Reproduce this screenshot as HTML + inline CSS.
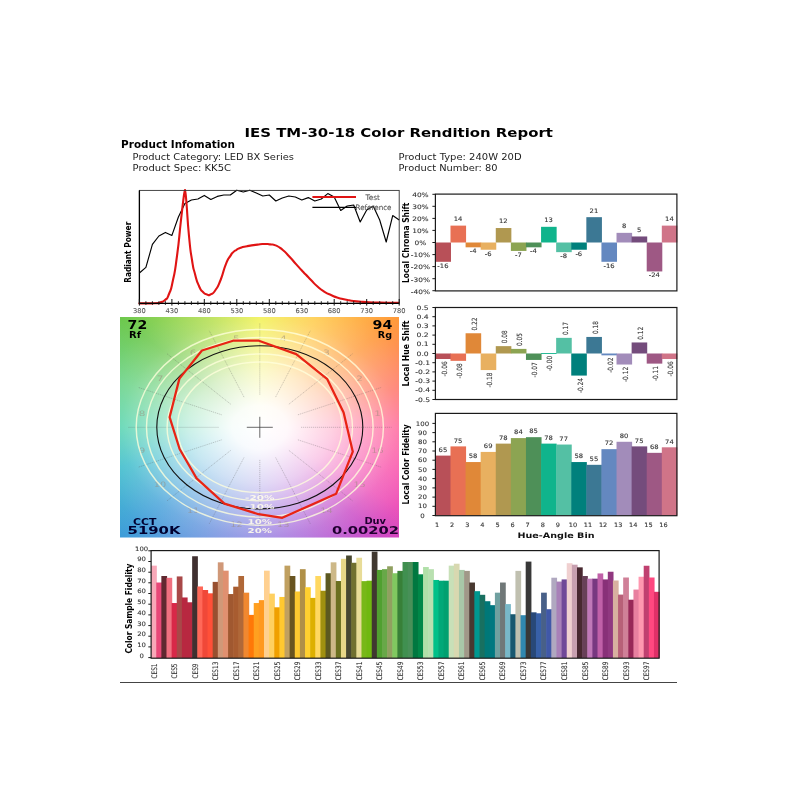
<!DOCTYPE html>
<html><head><meta charset="utf-8"><title>IES TM-30-18 Color Rendition Report</title>
<style>
html,body{margin:0;padding:0;background:#fff;}
body{width:800px;height:800px;position:relative;overflow:hidden;font-family:"DejaVu Sans","Liberation Sans",sans-serif;}
#cvgbg{filter:blur(0.4px);position:absolute;left:120px;top:317px;width:278.6px;height:220.6px;overflow:hidden;}
#cvgbg .wheel{position:absolute;left:0;top:0;width:280px;height:280px;transform-origin:0 0;transform:scaleY(0.7875);
 background:
  radial-gradient(circle at 50% 50%, rgba(255,255,255,1) 0%, rgba(255,255,255,0.96) 14%, rgba(255,255,255,0.72) 36%, rgba(255,255,255,0.46) 54%, rgba(255,255,255,0.22) 70%, rgba(255,255,255,0.07) 86%, rgba(255,255,255,0) 100%),
  conic-gradient(from 0deg at 50% 50%, #F0F040 0deg, #FFC840 22deg, #FF9838 45deg, #FF7060 70deg, #FF5C94 90deg, #F84CA8 112deg, #EC48B4 126deg, #C844C4 140deg, #A862D8 162deg, #8C7CE0 180deg, #5C90DC 205deg, #3C9CD8 225deg, #30B8C8 250deg, #48D0A8 270deg, #60D080 292deg, #6CC84C 315deg, #B0DC44 340deg, #F0F040 360deg);}
svg{position:absolute;left:0;top:0;filter:blur(0.45px);}
svg text{font-family:"DejaVu Sans","Liberation Sans",sans-serif;}
</style></head><body>
<div id="cvgbg"><div class="wheel"></div></div>
<svg width="800" height="800" viewBox="0 0 800 800">
<text x="398.7" y="136.7" font-size="12.8" fill="#000" text-anchor="middle" font-weight="bold" textLength="308.4" lengthAdjust="spacingAndGlyphs">IES TM-30-18 Color Rendition Report</text>
<text x="121.1" y="147.9" font-size="9.6" fill="#000" text-anchor="start" font-weight="bold" textLength="113.8" lengthAdjust="spacingAndGlyphs">Product Infomation</text>
<text x="132.6" y="160.1" font-size="8.4" fill="#222" text-anchor="start" textLength="161.4" lengthAdjust="spacingAndGlyphs">Product Category: LED BX Series</text>
<text x="132.6" y="171.0" font-size="8.4" fill="#222" text-anchor="start" textLength="98.4" lengthAdjust="spacingAndGlyphs">Product Spec: KK5C</text>
<text x="398.6" y="160.1" font-size="8.4" fill="#222" text-anchor="start" textLength="123" lengthAdjust="spacingAndGlyphs">Product Type: 240W 20D</text>
<text x="398.6" y="171.0" font-size="8.4" fill="#222" text-anchor="start" textLength="99" lengthAdjust="spacingAndGlyphs">Product Number: 80</text>
<polyline fill="none" stroke="#000" stroke-width="1.15" stroke-linejoin="round" points="139.4,273 145.9,267.4 152.4,244.4 158.9,236 165.4,232.4 171.9,235.4 178.4,217 184.9,203.6 191.4,200 197.9,199 204.3,195.4 210.8,199.4 217.3,196.4 223.8,195 230.3,195 236.8,190.2 243.3,192 249.8,190.2 256.3,193 262.8,196 269.3,195 275.8,201 282.3,198 288.8,196 295.3,197 301.8,200 308.3,197.6 314.8,201 321.3,199 327.8,193.6 334.2,197 340.7,210.4 347.2,206 353.7,205 360.2,222 366.7,210 373.2,206 379.7,220 386.2,242 392.7,215.6 399.2,220"/>
<path fill="none" stroke="#e01414" stroke-width="2.1" stroke-linejoin="round" stroke-linecap="round" d="M139.4,303.4 C144.6,303.3 148.1,303.5 155.0,303.2 C161.9,302.9 156.7,303.5 160.0,302.4 C163.3,301.3 162.0,302.8 165.0,300.0 C168.0,297.2 166.3,300.7 169.0,294.0 C171.7,287.3 170.3,292.7 173.0,280.0 C175.7,267.3 174.3,276.0 177.0,256.0 C179.7,236.0 178.8,239.3 181.0,220.0 C183.2,200.7 182.3,208.0 183.6,198.0 C184.9,188.0 184.5,192.7 185.0,190.0 L185.0,190.0 C185.5,194.0 185.1,186.7 186.4,202.0 C187.7,217.3 187.1,216.7 189.0,236.0 C190.9,255.3 190.0,247.3 192.0,260.0 C194.0,272.7 192.7,265.3 195.0,274.0 C197.3,282.7 196.3,280.0 199.0,286.0 C201.7,292.0 200.3,289.2 203.0,292.0 C205.7,294.8 204.5,293.6 207.0,294.4 C209.5,295.2 207.8,295.9 210.6,294.4 C213.4,292.9 212.1,295.0 215.5,290.0 C218.9,285.0 217.2,288.2 220.8,279.5 C224.2,270.8 222.8,271.6 226.0,263.8 C229.2,255.9 228.1,259.7 230.4,255.9 C232.7,252.1 231.0,254.5 233.0,252.4 C235.0,250.3 234.2,251.2 236.5,249.8 C238.8,248.3 236.5,249.2 240.0,248.0 C243.5,246.8 241.2,247.4 247.0,246.2 C252.8,245.1 251.7,245.3 257.5,244.6 C263.3,243.8 260.3,244.1 264.5,244.0 C268.7,243.9 266.3,243.9 270.0,244.4 C273.7,244.9 271.3,243.6 275.5,245.4 C279.7,247.2 277.8,246.0 282.5,249.8 C287.2,253.5 284.8,251.8 289.5,256.8 C294.2,261.7 291.8,259.5 296.5,264.6 C301.2,269.8 298.8,267.2 303.5,272.2 C308.2,277.2 305.8,274.7 310.5,279.5 C315.2,284.3 312.8,282.4 317.5,286.5 C322.2,290.6 319.8,288.8 324.5,291.8 C329.2,294.7 326.8,293.2 331.5,295.2 C336.2,297.3 332.7,296.2 338.5,297.9 C344.3,299.5 340.8,298.9 349.0,300.2 C357.2,301.5 352.5,301.1 363.0,301.9 C373.5,302.7 368.7,302.3 380.5,302.6 C392.3,302.9 392.5,302.7 398.5,302.8"/>
<rect x="139.4" y="190.4" width="259.8" height="113.0" fill="none" stroke="#333" stroke-width="0.9"/>
<polyline points="139.4,190.4 139.4,303.4 399.2,303.4" fill="none" stroke="#000" stroke-width="1.3"/>
<line x1="139.4" y1="299.0" x2="139.4" y2="305.59999999999997" stroke="#111" stroke-width="1"/>
<text x="139.4" y="312.7" font-size="6.6" fill="#555" text-anchor="middle" stroke="#555" stroke-width="0.1" textLength="12.8" lengthAdjust="spacingAndGlyphs">380</text>
<line x1="145.9" y1="301.2" x2="145.9" y2="304.9" stroke="#111" stroke-width="0.9"/>
<line x1="152.4" y1="301.2" x2="152.4" y2="304.9" stroke="#111" stroke-width="0.9"/>
<line x1="158.9" y1="301.2" x2="158.9" y2="304.9" stroke="#111" stroke-width="0.9"/>
<line x1="165.4" y1="301.2" x2="165.4" y2="304.9" stroke="#111" stroke-width="0.9"/>
<line x1="171.9" y1="299.0" x2="171.9" y2="305.59999999999997" stroke="#111" stroke-width="1"/>
<text x="171.9" y="312.7" font-size="6.6" fill="#555" text-anchor="middle" stroke="#555" stroke-width="0.1" textLength="12.8" lengthAdjust="spacingAndGlyphs">430</text>
<line x1="178.4" y1="301.2" x2="178.4" y2="304.9" stroke="#111" stroke-width="0.9"/>
<line x1="184.9" y1="301.2" x2="184.9" y2="304.9" stroke="#111" stroke-width="0.9"/>
<line x1="191.4" y1="301.2" x2="191.4" y2="304.9" stroke="#111" stroke-width="0.9"/>
<line x1="197.9" y1="301.2" x2="197.9" y2="304.9" stroke="#111" stroke-width="0.9"/>
<line x1="204.3" y1="299.0" x2="204.3" y2="305.59999999999997" stroke="#111" stroke-width="1"/>
<text x="204.3" y="312.7" font-size="6.6" fill="#555" text-anchor="middle" stroke="#555" stroke-width="0.1" textLength="12.8" lengthAdjust="spacingAndGlyphs">480</text>
<line x1="210.8" y1="301.2" x2="210.8" y2="304.9" stroke="#111" stroke-width="0.9"/>
<line x1="217.3" y1="301.2" x2="217.3" y2="304.9" stroke="#111" stroke-width="0.9"/>
<line x1="223.8" y1="301.2" x2="223.8" y2="304.9" stroke="#111" stroke-width="0.9"/>
<line x1="230.3" y1="301.2" x2="230.3" y2="304.9" stroke="#111" stroke-width="0.9"/>
<line x1="236.8" y1="299.0" x2="236.8" y2="305.59999999999997" stroke="#111" stroke-width="1"/>
<text x="236.8" y="312.7" font-size="6.6" fill="#555" text-anchor="middle" stroke="#555" stroke-width="0.1" textLength="12.8" lengthAdjust="spacingAndGlyphs">530</text>
<line x1="243.3" y1="301.2" x2="243.3" y2="304.9" stroke="#111" stroke-width="0.9"/>
<line x1="249.8" y1="301.2" x2="249.8" y2="304.9" stroke="#111" stroke-width="0.9"/>
<line x1="256.3" y1="301.2" x2="256.3" y2="304.9" stroke="#111" stroke-width="0.9"/>
<line x1="262.8" y1="301.2" x2="262.8" y2="304.9" stroke="#111" stroke-width="0.9"/>
<line x1="269.3" y1="299.0" x2="269.3" y2="305.59999999999997" stroke="#111" stroke-width="1"/>
<text x="269.3" y="312.7" font-size="6.6" fill="#555" text-anchor="middle" stroke="#555" stroke-width="0.1" textLength="12.8" lengthAdjust="spacingAndGlyphs">580</text>
<line x1="275.8" y1="301.2" x2="275.8" y2="304.9" stroke="#111" stroke-width="0.9"/>
<line x1="282.3" y1="301.2" x2="282.3" y2="304.9" stroke="#111" stroke-width="0.9"/>
<line x1="288.8" y1="301.2" x2="288.8" y2="304.9" stroke="#111" stroke-width="0.9"/>
<line x1="295.3" y1="301.2" x2="295.3" y2="304.9" stroke="#111" stroke-width="0.9"/>
<line x1="301.8" y1="299.0" x2="301.8" y2="305.59999999999997" stroke="#111" stroke-width="1"/>
<text x="301.8" y="312.7" font-size="6.6" fill="#555" text-anchor="middle" stroke="#555" stroke-width="0.1" textLength="12.8" lengthAdjust="spacingAndGlyphs">630</text>
<line x1="308.3" y1="301.2" x2="308.3" y2="304.9" stroke="#111" stroke-width="0.9"/>
<line x1="314.8" y1="301.2" x2="314.8" y2="304.9" stroke="#111" stroke-width="0.9"/>
<line x1="321.3" y1="301.2" x2="321.3" y2="304.9" stroke="#111" stroke-width="0.9"/>
<line x1="327.8" y1="301.2" x2="327.8" y2="304.9" stroke="#111" stroke-width="0.9"/>
<line x1="334.2" y1="299.0" x2="334.2" y2="305.59999999999997" stroke="#111" stroke-width="1"/>
<text x="334.2" y="312.7" font-size="6.6" fill="#555" text-anchor="middle" stroke="#555" stroke-width="0.1" textLength="12.8" lengthAdjust="spacingAndGlyphs">680</text>
<line x1="340.7" y1="301.2" x2="340.7" y2="304.9" stroke="#111" stroke-width="0.9"/>
<line x1="347.2" y1="301.2" x2="347.2" y2="304.9" stroke="#111" stroke-width="0.9"/>
<line x1="353.7" y1="301.2" x2="353.7" y2="304.9" stroke="#111" stroke-width="0.9"/>
<line x1="360.2" y1="301.2" x2="360.2" y2="304.9" stroke="#111" stroke-width="0.9"/>
<line x1="366.7" y1="299.0" x2="366.7" y2="305.59999999999997" stroke="#111" stroke-width="1"/>
<text x="366.7" y="312.7" font-size="6.6" fill="#555" text-anchor="middle" stroke="#555" stroke-width="0.1" textLength="12.8" lengthAdjust="spacingAndGlyphs">730</text>
<line x1="373.2" y1="301.2" x2="373.2" y2="304.9" stroke="#111" stroke-width="0.9"/>
<line x1="379.7" y1="301.2" x2="379.7" y2="304.9" stroke="#111" stroke-width="0.9"/>
<line x1="386.2" y1="301.2" x2="386.2" y2="304.9" stroke="#111" stroke-width="0.9"/>
<line x1="392.7" y1="301.2" x2="392.7" y2="304.9" stroke="#111" stroke-width="0.9"/>
<line x1="399.2" y1="299.0" x2="399.2" y2="305.59999999999997" stroke="#111" stroke-width="1"/>
<text x="399.2" y="312.7" font-size="6.6" fill="#555" text-anchor="middle" stroke="#555" stroke-width="0.1" textLength="12.8" lengthAdjust="spacingAndGlyphs">780</text>
<line x1="312.4" y1="197" x2="356" y2="197" stroke="#e01414" stroke-width="2.1"/>
<line x1="312.4" y1="207.3" x2="356" y2="207.3" stroke="#000" stroke-width="1.15"/>
<text x="365.4" y="200" font-size="7.4" fill="#555" text-anchor="start" stroke="#555" stroke-width="0.1">Test</text>
<text x="355.5" y="210" font-size="7.4" fill="#555" text-anchor="start" stroke="#555" stroke-width="0.1" textLength="36" lengthAdjust="spacingAndGlyphs">Reference</text>
<text x="131.2" y="252.2" font-size="9.3" fill="#000" text-anchor="middle" transform="rotate(-90 131.2 252.2)" font-weight="bold" font-family='"DejaVu Sans Condensed","DejaVu Sans","Liberation Sans",sans-serif' textLength="61" lengthAdjust="spacingAndGlyphs">Radiant Power</text>
<rect x="435.40" y="242.50" width="15.59" height="19.30" fill="#B85058"/>
<text transform="translate(442.9 267.8) scale(1.12 1)" font-size="6.1" fill="#333" text-anchor="middle" stroke="#333" stroke-width="0.1">-16</text>
<rect x="450.49" y="225.62" width="15.59" height="16.88" fill="#E87054"/>
<text transform="translate(458.0 221.0) scale(1.12 1)" font-size="6.1" fill="#333" text-anchor="middle" stroke="#333" stroke-width="0.1">14</text>
<rect x="465.59" y="242.50" width="15.59" height="4.82" fill="#E08838"/>
<text transform="translate(473.1 253.3) scale(1.12 1)" font-size="6.1" fill="#333" text-anchor="middle" stroke="#333" stroke-width="0.1">-4</text>
<rect x="480.68" y="242.50" width="15.59" height="7.24" fill="#E8B060"/>
<text transform="translate(488.2 255.7) scale(1.12 1)" font-size="6.1" fill="#333" text-anchor="middle" stroke="#333" stroke-width="0.1">-6</text>
<rect x="495.77" y="228.03" width="15.59" height="14.47" fill="#B09850"/>
<text transform="translate(503.3 223.4) scale(1.12 1)" font-size="6.1" fill="#333" text-anchor="middle" stroke="#333" stroke-width="0.1">12</text>
<rect x="510.87" y="242.50" width="15.59" height="8.44" fill="#8CA452"/>
<text transform="translate(518.4 256.9) scale(1.12 1)" font-size="6.1" fill="#333" text-anchor="middle" stroke="#333" stroke-width="0.1">-7</text>
<rect x="525.96" y="242.50" width="15.59" height="4.82" fill="#4E9058"/>
<text transform="translate(533.5 253.3) scale(1.12 1)" font-size="6.1" fill="#333" text-anchor="middle" stroke="#333" stroke-width="0.1">-4</text>
<rect x="541.06" y="226.82" width="15.59" height="15.68" fill="#10B48C"/>
<text transform="translate(548.6 222.2) scale(1.12 1)" font-size="6.1" fill="#333" text-anchor="middle" stroke="#333" stroke-width="0.1">13</text>
<rect x="556.15" y="242.50" width="15.59" height="9.65" fill="#54C0A4"/>
<text transform="translate(563.7 258.1) scale(1.12 1)" font-size="6.1" fill="#333" text-anchor="middle" stroke="#333" stroke-width="0.1">-8</text>
<rect x="571.24" y="242.50" width="15.59" height="7.24" fill="#00807C"/>
<text transform="translate(578.8 255.7) scale(1.12 1)" font-size="6.1" fill="#333" text-anchor="middle" stroke="#333" stroke-width="0.1">-6</text>
<rect x="586.34" y="217.17" width="15.59" height="25.33" fill="#3C7894"/>
<text transform="translate(593.9 212.6) scale(1.12 1)" font-size="6.1" fill="#333" text-anchor="middle" stroke="#333" stroke-width="0.1">21</text>
<rect x="601.43" y="242.50" width="15.59" height="19.30" fill="#6488C0"/>
<text transform="translate(609.0 267.8) scale(1.12 1)" font-size="6.1" fill="#333" text-anchor="middle" stroke="#333" stroke-width="0.1">-16</text>
<rect x="616.52" y="232.85" width="15.59" height="9.65" fill="#A28CBA"/>
<text transform="translate(624.1 228.3) scale(1.12 1)" font-size="6.1" fill="#333" text-anchor="middle" stroke="#333" stroke-width="0.1">8</text>
<rect x="631.62" y="236.47" width="15.59" height="6.03" fill="#744C7C"/>
<text transform="translate(639.2 231.9) scale(1.12 1)" font-size="6.1" fill="#333" text-anchor="middle" stroke="#333" stroke-width="0.1">5</text>
<rect x="646.71" y="242.50" width="15.59" height="28.94" fill="#9E5884"/>
<text transform="translate(654.3 277.4) scale(1.12 1)" font-size="6.1" fill="#333" text-anchor="middle" stroke="#333" stroke-width="0.1">-24</text>
<rect x="661.81" y="225.62" width="15.59" height="16.88" fill="#D07488"/>
<text transform="translate(669.4 221.0) scale(1.12 1)" font-size="6.1" fill="#333" text-anchor="middle" stroke="#333" stroke-width="0.1">14</text>
<rect x="435.4" y="194.1" width="241.5" height="96.8" fill="none" stroke="#1a1a1a" stroke-width="1.2"/>
<line x1="432.4" y1="194.3" x2="435.4" y2="194.3" stroke="#1a1a1a" stroke-width="1"/>
<text transform="translate(420.4 197.1) scale(1.22 1)" font-size="6.1" fill="#333" text-anchor="middle" stroke="#333" stroke-width="0.1">40%</text>
<line x1="432.4" y1="206.3" x2="435.4" y2="206.3" stroke="#1a1a1a" stroke-width="1"/>
<text transform="translate(420.4 209.1) scale(1.22 1)" font-size="6.1" fill="#333" text-anchor="middle" stroke="#333" stroke-width="0.1">30%</text>
<line x1="432.4" y1="218.4" x2="435.4" y2="218.4" stroke="#1a1a1a" stroke-width="1"/>
<text transform="translate(420.4 221.2) scale(1.22 1)" font-size="6.1" fill="#333" text-anchor="middle" stroke="#333" stroke-width="0.1">20%</text>
<line x1="432.4" y1="230.4" x2="435.4" y2="230.4" stroke="#1a1a1a" stroke-width="1"/>
<text transform="translate(420.4 233.2) scale(1.22 1)" font-size="6.1" fill="#333" text-anchor="middle" stroke="#333" stroke-width="0.1">10%</text>
<line x1="432.4" y1="242.5" x2="435.4" y2="242.5" stroke="#1a1a1a" stroke-width="1"/>
<text transform="translate(420.4 245.3) scale(1.22 1)" font-size="6.1" fill="#333" text-anchor="middle" stroke="#333" stroke-width="0.1">0%</text>
<line x1="432.4" y1="254.6" x2="435.4" y2="254.6" stroke="#1a1a1a" stroke-width="1"/>
<text transform="translate(420.4 257.4) scale(1.22 1)" font-size="6.1" fill="#333" text-anchor="middle" stroke="#333" stroke-width="0.1">-10%</text>
<line x1="432.4" y1="266.6" x2="435.4" y2="266.6" stroke="#1a1a1a" stroke-width="1"/>
<text transform="translate(420.4 269.4) scale(1.22 1)" font-size="6.1" fill="#333" text-anchor="middle" stroke="#333" stroke-width="0.1">-20%</text>
<line x1="432.4" y1="278.7" x2="435.4" y2="278.7" stroke="#1a1a1a" stroke-width="1"/>
<text transform="translate(420.4 281.5) scale(1.22 1)" font-size="6.1" fill="#333" text-anchor="middle" stroke="#333" stroke-width="0.1">-30%</text>
<line x1="432.4" y1="290.7" x2="435.4" y2="290.7" stroke="#1a1a1a" stroke-width="1"/>
<text transform="translate(420.4 293.5) scale(1.22 1)" font-size="6.1" fill="#333" text-anchor="middle" stroke="#333" stroke-width="0.1">-40%</text>
<text x="408.6" y="242.8" font-size="9.0" fill="#000" text-anchor="middle" transform="rotate(-90 408.6 242.8)" font-weight="bold" font-family='"DejaVu Sans Condensed","DejaVu Sans","Liberation Sans",sans-serif' textLength="80.5" lengthAdjust="spacingAndGlyphs">Local Chroma Shift</text>
<rect x="435.40" y="353.50" width="15.59" height="5.52" fill="#B85058"/>
<text x="446.8" y="361.3" font-size="7.2" fill="#333" text-anchor="end" transform="rotate(-90 446.8 361.3)" stroke="#333" stroke-width="0.1" textLength="15.2" lengthAdjust="spacingAndGlyphs">-0.06</text>
<rect x="450.49" y="353.50" width="15.59" height="7.36" fill="#E87054"/>
<text x="461.9" y="363.2" font-size="7.2" fill="#333" text-anchor="end" transform="rotate(-90 461.9 363.2)" stroke="#333" stroke-width="0.1" textLength="15.2" lengthAdjust="spacingAndGlyphs">-0.08</text>
<rect x="465.59" y="333.26" width="15.59" height="20.24" fill="#E08838"/>
<text x="477.0" y="330.5" font-size="7.2" fill="#333" text-anchor="start" transform="rotate(-90 477.0 330.5)" stroke="#333" stroke-width="0.1" textLength="13" lengthAdjust="spacingAndGlyphs">0.22</text>
<rect x="480.68" y="353.50" width="15.59" height="16.56" fill="#E8B060"/>
<text x="492.1" y="372.4" font-size="7.2" fill="#333" text-anchor="end" transform="rotate(-90 492.1 372.4)" stroke="#333" stroke-width="0.1" textLength="15.2" lengthAdjust="spacingAndGlyphs">-0.18</text>
<rect x="495.77" y="346.14" width="15.59" height="7.36" fill="#B09850"/>
<text x="507.2" y="343.3" font-size="7.2" fill="#333" text-anchor="start" transform="rotate(-90 507.2 343.3)" stroke="#333" stroke-width="0.1" textLength="13" lengthAdjust="spacingAndGlyphs">0.08</text>
<rect x="510.87" y="348.90" width="15.59" height="4.60" fill="#8CA452"/>
<text x="522.3" y="346.1" font-size="7.2" fill="#333" text-anchor="start" transform="rotate(-90 522.3 346.1)" stroke="#333" stroke-width="0.1" textLength="13" lengthAdjust="spacingAndGlyphs">0.05</text>
<rect x="525.96" y="353.50" width="15.59" height="6.44" fill="#4E9058"/>
<text x="537.4" y="362.2" font-size="7.2" fill="#333" text-anchor="end" transform="rotate(-90 537.4 362.2)" stroke="#333" stroke-width="0.1" textLength="15.2" lengthAdjust="spacingAndGlyphs">-0.07</text>
<rect x="541.06" y="353.10" width="15.59" height="0.9" fill="#10B48C"/>
<text x="552.5" y="355.8" font-size="7.2" fill="#333" text-anchor="end" transform="rotate(-90 552.5 355.8)" stroke="#333" stroke-width="0.1" textLength="15.2" lengthAdjust="spacingAndGlyphs">-0.00</text>
<rect x="556.15" y="337.86" width="15.59" height="15.64" fill="#54C0A4"/>
<text x="567.6" y="335.1" font-size="7.2" fill="#333" text-anchor="start" transform="rotate(-90 567.6 335.1)" stroke="#333" stroke-width="0.1" textLength="13" lengthAdjust="spacingAndGlyphs">0.17</text>
<rect x="571.24" y="353.50" width="15.59" height="22.08" fill="#00807C"/>
<text x="582.7" y="377.9" font-size="7.2" fill="#333" text-anchor="end" transform="rotate(-90 582.7 377.9)" stroke="#333" stroke-width="0.1" textLength="15.2" lengthAdjust="spacingAndGlyphs">-0.24</text>
<rect x="586.34" y="336.94" width="15.59" height="16.56" fill="#3C7894"/>
<text x="597.8" y="334.1" font-size="7.2" fill="#333" text-anchor="start" transform="rotate(-90 597.8 334.1)" stroke="#333" stroke-width="0.1" textLength="13" lengthAdjust="spacingAndGlyphs">0.18</text>
<rect x="601.43" y="353.50" width="15.59" height="1.84" fill="#6488C0"/>
<text x="612.9" y="357.6" font-size="7.2" fill="#333" text-anchor="end" transform="rotate(-90 612.9 357.6)" stroke="#333" stroke-width="0.1" textLength="15.2" lengthAdjust="spacingAndGlyphs">-0.02</text>
<rect x="616.52" y="353.50" width="15.59" height="11.04" fill="#A28CBA"/>
<text x="628.0" y="366.8" font-size="7.2" fill="#333" text-anchor="end" transform="rotate(-90 628.0 366.8)" stroke="#333" stroke-width="0.1" textLength="15.2" lengthAdjust="spacingAndGlyphs">-0.12</text>
<rect x="631.62" y="342.46" width="15.59" height="11.04" fill="#744C7C"/>
<text x="643.1" y="339.7" font-size="7.2" fill="#333" text-anchor="start" transform="rotate(-90 643.1 339.7)" stroke="#333" stroke-width="0.1" textLength="13" lengthAdjust="spacingAndGlyphs">0.12</text>
<rect x="646.71" y="353.50" width="15.59" height="10.12" fill="#9E5884"/>
<text x="658.2" y="365.9" font-size="7.2" fill="#333" text-anchor="end" transform="rotate(-90 658.2 365.9)" stroke="#333" stroke-width="0.1" textLength="15.2" lengthAdjust="spacingAndGlyphs">-0.11</text>
<rect x="661.81" y="353.50" width="15.59" height="5.52" fill="#D07488"/>
<text x="673.3" y="361.3" font-size="7.2" fill="#333" text-anchor="end" transform="rotate(-90 673.3 361.3)" stroke="#333" stroke-width="0.1" textLength="15.2" lengthAdjust="spacingAndGlyphs">-0.06</text>
<rect x="435.4" y="307.5" width="241.5" height="92.0" fill="none" stroke="#1a1a1a" stroke-width="1.2"/>
<line x1="432.4" y1="307.5" x2="435.4" y2="307.5" stroke="#1a1a1a" stroke-width="1"/>
<text transform="translate(422.6 309.6) scale(1.25 1)" font-size="6.1" fill="#333" text-anchor="middle" stroke="#333" stroke-width="0.1">0.5</text>
<line x1="432.4" y1="316.7" x2="435.4" y2="316.7" stroke="#1a1a1a" stroke-width="1"/>
<text transform="translate(422.6 318.8) scale(1.25 1)" font-size="6.1" fill="#333" text-anchor="middle" stroke="#333" stroke-width="0.1">0.4</text>
<line x1="432.4" y1="325.9" x2="435.4" y2="325.9" stroke="#1a1a1a" stroke-width="1"/>
<text transform="translate(422.6 327.9) scale(1.25 1)" font-size="6.1" fill="#333" text-anchor="middle" stroke="#333" stroke-width="0.1">0.3</text>
<line x1="432.4" y1="335.1" x2="435.4" y2="335.1" stroke="#1a1a1a" stroke-width="1"/>
<text transform="translate(422.6 337.2) scale(1.25 1)" font-size="6.1" fill="#333" text-anchor="middle" stroke="#333" stroke-width="0.1">0.2</text>
<line x1="432.4" y1="344.3" x2="435.4" y2="344.3" stroke="#1a1a1a" stroke-width="1"/>
<text transform="translate(422.6 346.4) scale(1.25 1)" font-size="6.1" fill="#333" text-anchor="middle" stroke="#333" stroke-width="0.1">0.1</text>
<line x1="432.4" y1="353.5" x2="435.4" y2="353.5" stroke="#1a1a1a" stroke-width="1"/>
<text transform="translate(422.6 355.6) scale(1.25 1)" font-size="6.1" fill="#333" text-anchor="middle" stroke="#333" stroke-width="0.1">0.0</text>
<line x1="432.4" y1="362.7" x2="435.4" y2="362.7" stroke="#1a1a1a" stroke-width="1"/>
<text transform="translate(422.6 364.8) scale(1.25 1)" font-size="6.1" fill="#333" text-anchor="middle" stroke="#333" stroke-width="0.1">-0.1</text>
<line x1="432.4" y1="371.9" x2="435.4" y2="371.9" stroke="#1a1a1a" stroke-width="1"/>
<text transform="translate(422.6 373.9) scale(1.25 1)" font-size="6.1" fill="#333" text-anchor="middle" stroke="#333" stroke-width="0.1">-0.2</text>
<line x1="432.4" y1="381.1" x2="435.4" y2="381.1" stroke="#1a1a1a" stroke-width="1"/>
<text transform="translate(422.6 383.2) scale(1.25 1)" font-size="6.1" fill="#333" text-anchor="middle" stroke="#333" stroke-width="0.1">-0.3</text>
<line x1="432.4" y1="390.3" x2="435.4" y2="390.3" stroke="#1a1a1a" stroke-width="1"/>
<text transform="translate(422.6 392.4) scale(1.25 1)" font-size="6.1" fill="#333" text-anchor="middle" stroke="#333" stroke-width="0.1">-0.4</text>
<line x1="432.4" y1="399.5" x2="435.4" y2="399.5" stroke="#1a1a1a" stroke-width="1"/>
<text transform="translate(422.6 401.6) scale(1.25 1)" font-size="6.1" fill="#333" text-anchor="middle" stroke="#333" stroke-width="0.1">-0.5</text>
<text x="408.6" y="353.5" font-size="9.0" fill="#000" text-anchor="middle" transform="rotate(-90 408.6 353.5)" font-weight="bold" font-family='"DejaVu Sans Condensed","DejaVu Sans","Liberation Sans",sans-serif' textLength="66" lengthAdjust="spacingAndGlyphs">Local Hue Shift</text>
<rect x="435.40" y="455.60" width="15.59" height="59.90" fill="#B85058"/>
<text transform="translate(442.9 451.8) scale(1.12 1)" font-size="6.1" fill="#333" text-anchor="middle" stroke="#333" stroke-width="0.1">65</text>
<text transform="translate(437.1 526.8) scale(1.1 1)" font-size="6.0" fill="#333" text-anchor="middle" stroke="#333" stroke-width="0.1">1</text>
<rect x="450.49" y="446.39" width="15.59" height="69.11" fill="#E87054"/>
<text transform="translate(458.0 442.6) scale(1.12 1)" font-size="6.1" fill="#333" text-anchor="middle" stroke="#333" stroke-width="0.1">75</text>
<text transform="translate(452.2 526.8) scale(1.1 1)" font-size="6.0" fill="#333" text-anchor="middle" stroke="#333" stroke-width="0.1">2</text>
<rect x="465.59" y="462.05" width="15.59" height="53.45" fill="#E08838"/>
<text transform="translate(473.1 458.3) scale(1.12 1)" font-size="6.1" fill="#333" text-anchor="middle" stroke="#333" stroke-width="0.1">58</text>
<text transform="translate(467.3 526.8) scale(1.1 1)" font-size="6.0" fill="#333" text-anchor="middle" stroke="#333" stroke-width="0.1">3</text>
<rect x="480.68" y="451.92" width="15.59" height="63.58" fill="#E8B060"/>
<text transform="translate(488.2 448.1) scale(1.12 1)" font-size="6.1" fill="#333" text-anchor="middle" stroke="#333" stroke-width="0.1">69</text>
<text transform="translate(482.4 526.8) scale(1.1 1)" font-size="6.0" fill="#333" text-anchor="middle" stroke="#333" stroke-width="0.1">4</text>
<rect x="495.77" y="443.62" width="15.59" height="71.88" fill="#B09850"/>
<text transform="translate(503.3 439.8) scale(1.12 1)" font-size="6.1" fill="#333" text-anchor="middle" stroke="#333" stroke-width="0.1">78</text>
<text transform="translate(497.5 526.8) scale(1.1 1)" font-size="6.0" fill="#333" text-anchor="middle" stroke="#333" stroke-width="0.1">5</text>
<rect x="510.87" y="438.09" width="15.59" height="77.41" fill="#8CA452"/>
<text transform="translate(518.4 434.3) scale(1.12 1)" font-size="6.1" fill="#333" text-anchor="middle" stroke="#333" stroke-width="0.1">84</text>
<text transform="translate(512.6 526.8) scale(1.1 1)" font-size="6.0" fill="#333" text-anchor="middle" stroke="#333" stroke-width="0.1">6</text>
<rect x="525.96" y="437.17" width="15.59" height="78.33" fill="#4E9058"/>
<text transform="translate(533.5 433.4) scale(1.12 1)" font-size="6.1" fill="#333" text-anchor="middle" stroke="#333" stroke-width="0.1">85</text>
<text transform="translate(527.7 526.8) scale(1.1 1)" font-size="6.0" fill="#333" text-anchor="middle" stroke="#333" stroke-width="0.1">7</text>
<rect x="541.06" y="443.62" width="15.59" height="71.88" fill="#10B48C"/>
<text transform="translate(548.6 439.8) scale(1.12 1)" font-size="6.1" fill="#333" text-anchor="middle" stroke="#333" stroke-width="0.1">78</text>
<text transform="translate(542.8 526.8) scale(1.1 1)" font-size="6.0" fill="#333" text-anchor="middle" stroke="#333" stroke-width="0.1">8</text>
<rect x="556.15" y="444.54" width="15.59" height="70.96" fill="#54C0A4"/>
<text transform="translate(563.7 440.7) scale(1.12 1)" font-size="6.1" fill="#333" text-anchor="middle" stroke="#333" stroke-width="0.1">77</text>
<text transform="translate(557.9 526.8) scale(1.1 1)" font-size="6.0" fill="#333" text-anchor="middle" stroke="#333" stroke-width="0.1">9</text>
<rect x="571.24" y="462.05" width="15.59" height="53.45" fill="#00807C"/>
<text transform="translate(578.8 458.3) scale(1.12 1)" font-size="6.1" fill="#333" text-anchor="middle" stroke="#333" stroke-width="0.1">58</text>
<text transform="translate(572.9 526.8) scale(1.1 1)" font-size="6.0" fill="#333" text-anchor="middle" stroke="#333" stroke-width="0.1">10</text>
<rect x="586.34" y="464.82" width="15.59" height="50.68" fill="#3C7894"/>
<text transform="translate(593.9 461.0) scale(1.12 1)" font-size="6.1" fill="#333" text-anchor="middle" stroke="#333" stroke-width="0.1">55</text>
<text transform="translate(588.0 526.8) scale(1.1 1)" font-size="6.0" fill="#333" text-anchor="middle" stroke="#333" stroke-width="0.1">11</text>
<rect x="601.43" y="449.15" width="15.59" height="66.35" fill="#6488C0"/>
<text transform="translate(609.0 445.4) scale(1.12 1)" font-size="6.1" fill="#333" text-anchor="middle" stroke="#333" stroke-width="0.1">72</text>
<text transform="translate(603.1 526.8) scale(1.1 1)" font-size="6.0" fill="#333" text-anchor="middle" stroke="#333" stroke-width="0.1">12</text>
<rect x="616.52" y="441.78" width="15.59" height="73.72" fill="#A28CBA"/>
<text transform="translate(624.1 438.0) scale(1.12 1)" font-size="6.1" fill="#333" text-anchor="middle" stroke="#333" stroke-width="0.1">80</text>
<text transform="translate(618.2 526.8) scale(1.1 1)" font-size="6.0" fill="#333" text-anchor="middle" stroke="#333" stroke-width="0.1">13</text>
<rect x="631.62" y="446.39" width="15.59" height="69.11" fill="#744C7C"/>
<text transform="translate(639.2 442.6) scale(1.12 1)" font-size="6.1" fill="#333" text-anchor="middle" stroke="#333" stroke-width="0.1">75</text>
<text transform="translate(633.3 526.8) scale(1.1 1)" font-size="6.0" fill="#333" text-anchor="middle" stroke="#333" stroke-width="0.1">14</text>
<rect x="646.71" y="452.84" width="15.59" height="62.66" fill="#9E5884"/>
<text transform="translate(654.3 449.0) scale(1.12 1)" font-size="6.1" fill="#333" text-anchor="middle" stroke="#333" stroke-width="0.1">68</text>
<text transform="translate(648.4 526.8) scale(1.1 1)" font-size="6.0" fill="#333" text-anchor="middle" stroke="#333" stroke-width="0.1">15</text>
<rect x="661.81" y="447.31" width="15.59" height="68.19" fill="#D07488"/>
<text transform="translate(669.4 443.5) scale(1.12 1)" font-size="6.1" fill="#333" text-anchor="middle" stroke="#333" stroke-width="0.1">74</text>
<text transform="translate(663.5 526.8) scale(1.1 1)" font-size="6.0" fill="#333" text-anchor="middle" stroke="#333" stroke-width="0.1">16</text>
<rect x="435.4" y="413.4" width="241.5" height="102.3" fill="none" stroke="#1a1a1a" stroke-width="1.2"/>
<line x1="432.4" y1="515.5" x2="435.4" y2="515.5" stroke="#1a1a1a" stroke-width="1"/>
<text transform="translate(422.5 517.6) scale(1.15 1)" font-size="6.1" fill="#333" text-anchor="middle" stroke="#333" stroke-width="0.1">0</text>
<line x1="432.4" y1="506.3" x2="435.4" y2="506.3" stroke="#1a1a1a" stroke-width="1"/>
<text transform="translate(422.5 508.4) scale(1.15 1)" font-size="6.1" fill="#333" text-anchor="middle" stroke="#333" stroke-width="0.1">10</text>
<line x1="432.4" y1="497.1" x2="435.4" y2="497.1" stroke="#1a1a1a" stroke-width="1"/>
<text transform="translate(422.5 499.2) scale(1.15 1)" font-size="6.1" fill="#333" text-anchor="middle" stroke="#333" stroke-width="0.1">20</text>
<line x1="432.4" y1="487.9" x2="435.4" y2="487.9" stroke="#1a1a1a" stroke-width="1"/>
<text transform="translate(422.5 490.0) scale(1.15 1)" font-size="6.1" fill="#333" text-anchor="middle" stroke="#333" stroke-width="0.1">30</text>
<line x1="432.4" y1="478.6" x2="435.4" y2="478.6" stroke="#1a1a1a" stroke-width="1"/>
<text transform="translate(422.5 480.7) scale(1.15 1)" font-size="6.1" fill="#333" text-anchor="middle" stroke="#333" stroke-width="0.1">40</text>
<line x1="432.4" y1="469.4" x2="435.4" y2="469.4" stroke="#1a1a1a" stroke-width="1"/>
<text transform="translate(422.5 471.5) scale(1.15 1)" font-size="6.1" fill="#333" text-anchor="middle" stroke="#333" stroke-width="0.1">50</text>
<line x1="432.4" y1="460.2" x2="435.4" y2="460.2" stroke="#1a1a1a" stroke-width="1"/>
<text transform="translate(422.5 462.3) scale(1.15 1)" font-size="6.1" fill="#333" text-anchor="middle" stroke="#333" stroke-width="0.1">60</text>
<line x1="432.4" y1="451.0" x2="435.4" y2="451.0" stroke="#1a1a1a" stroke-width="1"/>
<text transform="translate(422.5 453.1) scale(1.15 1)" font-size="6.1" fill="#333" text-anchor="middle" stroke="#333" stroke-width="0.1">70</text>
<line x1="432.4" y1="441.8" x2="435.4" y2="441.8" stroke="#1a1a1a" stroke-width="1"/>
<text transform="translate(422.5 443.9) scale(1.15 1)" font-size="6.1" fill="#333" text-anchor="middle" stroke="#333" stroke-width="0.1">80</text>
<line x1="432.4" y1="432.6" x2="435.4" y2="432.6" stroke="#1a1a1a" stroke-width="1"/>
<text transform="translate(422.5 434.7) scale(1.15 1)" font-size="6.1" fill="#333" text-anchor="middle" stroke="#333" stroke-width="0.1">90</text>
<line x1="432.4" y1="423.4" x2="435.4" y2="423.4" stroke="#1a1a1a" stroke-width="1"/>
<text transform="translate(422.5 425.5) scale(1.15 1)" font-size="6.1" fill="#333" text-anchor="middle" stroke="#333" stroke-width="0.1">100</text>
<text x="408.6" y="464.5" font-size="9.0" fill="#000" text-anchor="middle" transform="rotate(-90 408.6 464.5)" font-weight="bold" font-family='"DejaVu Sans Condensed","DejaVu Sans","Liberation Sans",sans-serif' textLength="80" lengthAdjust="spacingAndGlyphs">Local Color Fidelity</text>
<text x="556" y="537.7" font-size="7.6" fill="#111" text-anchor="middle" font-weight="bold" textLength="77" lengthAdjust="spacingAndGlyphs">Hue-Angle Bin</text>
<g>
<line x1="301.0" y1="427.3" x2="391.6" y2="427.3" stroke="#555" stroke-opacity="0.42" stroke-width="0.7" stroke-dasharray="1.2 0.8"/>
<line x1="297.9" y1="414.8" x2="381.6" y2="387.3" stroke="#555" stroke-opacity="0.42" stroke-width="0.7" stroke-dasharray="1.2 0.8"/>
<line x1="288.9" y1="404.2" x2="353.0" y2="353.4" stroke="#555" stroke-opacity="0.42" stroke-width="0.7" stroke-dasharray="1.2 0.8"/>
<line x1="275.6" y1="397.1" x2="310.3" y2="330.8" stroke="#555" stroke-opacity="0.42" stroke-width="0.7" stroke-dasharray="1.2 0.8"/>
<line x1="259.8" y1="394.7" x2="259.8" y2="322.9" stroke="#555" stroke-opacity="0.42" stroke-width="0.7" stroke-dasharray="1.2 0.8"/>
<line x1="244.0" y1="397.1" x2="209.3" y2="330.8" stroke="#555" stroke-opacity="0.42" stroke-width="0.7" stroke-dasharray="1.2 0.8"/>
<line x1="230.7" y1="404.2" x2="166.6" y2="353.4" stroke="#555" stroke-opacity="0.42" stroke-width="0.7" stroke-dasharray="1.2 0.8"/>
<line x1="221.7" y1="414.8" x2="138.0" y2="387.3" stroke="#555" stroke-opacity="0.42" stroke-width="0.7" stroke-dasharray="1.2 0.8"/>
<line x1="218.6" y1="427.3" x2="128.0" y2="427.3" stroke="#555" stroke-opacity="0.42" stroke-width="0.7" stroke-dasharray="1.2 0.8"/>
<line x1="221.7" y1="439.8" x2="138.0" y2="467.3" stroke="#555" stroke-opacity="0.42" stroke-width="0.7" stroke-dasharray="1.2 0.8"/>
<line x1="230.7" y1="450.4" x2="166.6" y2="501.2" stroke="#555" stroke-opacity="0.42" stroke-width="0.7" stroke-dasharray="1.2 0.8"/>
<line x1="244.0" y1="457.5" x2="209.3" y2="523.8" stroke="#555" stroke-opacity="0.42" stroke-width="0.7" stroke-dasharray="1.2 0.8"/>
<line x1="259.8" y1="459.9" x2="259.8" y2="531.7" stroke="#555" stroke-opacity="0.42" stroke-width="0.7" stroke-dasharray="1.2 0.8"/>
<line x1="275.6" y1="457.5" x2="310.3" y2="523.8" stroke="#555" stroke-opacity="0.42" stroke-width="0.7" stroke-dasharray="1.2 0.8"/>
<line x1="288.9" y1="450.4" x2="353.0" y2="501.2" stroke="#555" stroke-opacity="0.42" stroke-width="0.7" stroke-dasharray="1.2 0.8"/>
<line x1="297.9" y1="439.8" x2="381.6" y2="467.3" stroke="#555" stroke-opacity="0.42" stroke-width="0.7" stroke-dasharray="1.2 0.8"/>
<text x="377.5" y="415.6" font-size="7.4" fill="#988878" text-anchor="middle" textLength="6.6" lengthAdjust="spacingAndGlyphs" fill-opacity="0.55">1</text>
<text x="359.6" y="381.3" font-size="7.4" fill="#988878" text-anchor="middle" textLength="6.6" lengthAdjust="spacingAndGlyphs" fill-opacity="0.55">2</text>
<text x="326.5" y="355.1" font-size="7.4" fill="#988878" text-anchor="middle" textLength="6.6" lengthAdjust="spacingAndGlyphs" fill-opacity="0.55">3</text>
<text x="283.2" y="340.9" font-size="7.4" fill="#988878" text-anchor="middle" textLength="6.6" lengthAdjust="spacingAndGlyphs" fill-opacity="0.55">4</text>
<text x="236.4" y="340.9" font-size="7.4" fill="#988878" text-anchor="middle" textLength="6.6" lengthAdjust="spacingAndGlyphs" fill-opacity="0.55">5</text>
<text x="193.1" y="355.1" font-size="7.4" fill="#988878" text-anchor="middle" textLength="6.6" lengthAdjust="spacingAndGlyphs" fill-opacity="0.55">6</text>
<text x="160.0" y="381.3" font-size="7.4" fill="#988878" text-anchor="middle" textLength="6.6" lengthAdjust="spacingAndGlyphs" fill-opacity="0.55">7</text>
<text x="142.1" y="415.6" font-size="7.4" fill="#988878" text-anchor="middle" textLength="6.6" lengthAdjust="spacingAndGlyphs" fill-opacity="0.55">8</text>
<text x="142.1" y="452.6" font-size="7.4" fill="#988878" text-anchor="middle" textLength="6.6" lengthAdjust="spacingAndGlyphs" fill-opacity="0.55">9</text>
<text x="160.0" y="486.9" font-size="7.4" fill="#988878" text-anchor="middle" textLength="12.4" lengthAdjust="spacingAndGlyphs" fill-opacity="0.55">10</text>
<text x="193.1" y="513.1" font-size="7.4" fill="#988878" text-anchor="middle" textLength="12.4" lengthAdjust="spacingAndGlyphs" fill-opacity="0.55">11</text>
<text x="236.4" y="527.3" font-size="7.4" fill="#988878" text-anchor="middle" textLength="12.4" lengthAdjust="spacingAndGlyphs" fill-opacity="0.55">12</text>
<text x="283.2" y="527.3" font-size="7.4" fill="#988878" text-anchor="middle" textLength="12.4" lengthAdjust="spacingAndGlyphs" fill-opacity="0.55">13</text>
<text x="326.5" y="513.1" font-size="7.4" fill="#988878" text-anchor="middle" textLength="12.4" lengthAdjust="spacingAndGlyphs" fill-opacity="0.55">14</text>
<text x="359.6" y="486.9" font-size="7.4" fill="#988878" text-anchor="middle" textLength="12.4" lengthAdjust="spacingAndGlyphs" fill-opacity="0.55">15</text>
<text x="377.5" y="452.6" font-size="7.4" fill="#988878" text-anchor="middle" textLength="12.4" lengthAdjust="spacingAndGlyphs" fill-opacity="0.55">16</text>
<ellipse cx="259.8" cy="427.3" rx="82.4" ry="65.3" fill="none" stroke="#FFFFDC" stroke-opacity="0.78" stroke-width="1.45"/>
<ellipse cx="259.8" cy="427.3" rx="92.7" ry="73.4" fill="none" stroke="#FFFFDC" stroke-opacity="0.78" stroke-width="1.45"/>
<ellipse cx="259.8" cy="427.3" rx="113.3" ry="89.8" fill="none" stroke="#FFFFDC" stroke-opacity="0.78" stroke-width="1.45"/>
<ellipse cx="259.8" cy="427.3" rx="123.6" ry="97.9" fill="none" stroke="#FFFFDC" stroke-opacity="0.78" stroke-width="1.45"/>
<ellipse cx="259.8" cy="427.3" rx="103.0" ry="81.6" fill="none" stroke="#111" stroke-width="1.1"/>
<line x1="246.8" y1="427.3" x2="272.8" y2="427.3" stroke="#444" stroke-width="0.8"/>
<line x1="259.8" y1="416.8" x2="259.8" y2="437.8" stroke="#444" stroke-width="0.8"/>
<polygon fill="none" stroke="#e82414" stroke-width="2.25" stroke-linejoin="round" points="258.9,340.7 233,340.7 201.9,350.5 179.4,378.6 169.6,417.2 179.6,449 196.6,478.4 224.4,503.6 258.5,514.2 282.3,517.8 336.2,493.7 352.8,451.7 343.6,412.6 327.3,379.2 296.2,354.1"/>
<text x="259.8" y="500.2" font-size="6.6" fill="#FFFCEC" text-anchor="middle" font-weight="bold" textLength="29.5" lengthAdjust="spacingAndGlyphs" fill-opacity="0.9">-20%</text>
<text x="259.8" y="508.6" font-size="6.6" fill="#FFFCEC" text-anchor="middle" font-weight="bold" textLength="29.5" lengthAdjust="spacingAndGlyphs" fill-opacity="0.9">-10%</text>
<text x="259.8" y="524.2" font-size="6.6" fill="#FFFCEC" text-anchor="middle" font-weight="bold" textLength="24.5" lengthAdjust="spacingAndGlyphs" fill-opacity="0.9">10%</text>
<text x="259.8" y="532.6" font-size="6.6" fill="#FFFCEC" text-anchor="middle" font-weight="bold" textLength="24.5" lengthAdjust="spacingAndGlyphs" fill-opacity="0.9">20%</text>
<text x="127.6" y="329.1" font-size="11.4" fill="#000" text-anchor="start" font-weight="bold" textLength="19.6" lengthAdjust="spacingAndGlyphs">72</text>
<text x="129" y="338" font-size="8.5" fill="#000" text-anchor="start" font-weight="bold" textLength="12" lengthAdjust="spacingAndGlyphs">Rf</text>
<text x="392.4" y="329.1" font-size="11.4" fill="#000" text-anchor="end" font-weight="bold" textLength="19.8" lengthAdjust="spacingAndGlyphs">94</text>
<text x="392" y="337.6" font-size="8.5" fill="#000" text-anchor="end" font-weight="bold" textLength="14.2" lengthAdjust="spacingAndGlyphs">Rg</text>
<text x="133" y="524.6" font-size="8.5" fill="#000030" text-anchor="start" font-weight="bold" textLength="23.4" lengthAdjust="spacingAndGlyphs">CCT</text>
<text x="127.6" y="534.4" font-size="10.5" fill="#000030" text-anchor="start" font-weight="bold" textLength="52.8" lengthAdjust="spacingAndGlyphs">5190K</text>
<text x="386" y="524.4" font-size="8.5" fill="#200030" text-anchor="end" font-weight="bold" textLength="21.6" lengthAdjust="spacingAndGlyphs">Duv</text>
<text x="399" y="534.2" font-size="10.5" fill="#200030" text-anchor="end" font-weight="bold" textLength="67" lengthAdjust="spacingAndGlyphs">0.00202</text>
</g>
<rect x="151.10" y="565.65" width="5.73" height="92.45" fill="#F8A8B8"/>
<rect x="156.23" y="582.52" width="5.73" height="75.58" fill="#E84878"/>
<rect x="161.36" y="576.00" width="5.73" height="82.10" fill="#602830"/>
<rect x="166.49" y="577.82" width="5.73" height="80.28" fill="#F07080"/>
<rect x="171.63" y="603.03" width="5.73" height="55.07" fill="#D82848"/>
<rect x="176.76" y="576.43" width="5.73" height="81.67" fill="#A84848"/>
<rect x="181.89" y="597.47" width="5.73" height="60.63" fill="#B82840"/>
<rect x="187.02" y="602.28" width="5.73" height="55.82" fill="#B82840"/>
<rect x="192.15" y="556.25" width="5.73" height="101.85" fill="#403030"/>
<rect x="197.28" y="586.47" width="5.73" height="71.63" fill="#FF6858"/>
<rect x="202.41" y="590.00" width="5.73" height="68.10" fill="#F04838"/>
<rect x="207.54" y="593.31" width="5.73" height="64.79" fill="#FF5038"/>
<rect x="212.68" y="581.88" width="5.73" height="76.22" fill="#985030"/>
<rect x="217.81" y="562.33" width="5.73" height="95.77" fill="#D09878"/>
<rect x="222.94" y="570.66" width="5.73" height="87.44" fill="#E09070"/>
<rect x="228.07" y="594.05" width="5.73" height="64.05" fill="#A05830"/>
<rect x="233.20" y="586.68" width="5.73" height="71.42" fill="#A85C30"/>
<rect x="238.33" y="576.00" width="5.73" height="82.10" fill="#B06838"/>
<rect x="243.46" y="592.67" width="5.73" height="65.43" fill="#F08830"/>
<rect x="248.59" y="614.88" width="5.73" height="43.22" fill="#FF7808"/>
<rect x="253.73" y="603.03" width="5.73" height="55.07" fill="#FFA020"/>
<rect x="258.86" y="600.14" width="5.73" height="57.96" fill="#FF9820"/>
<rect x="263.99" y="570.66" width="5.73" height="87.44" fill="#FFD090"/>
<rect x="269.12" y="593.63" width="5.73" height="64.47" fill="#FFD060"/>
<rect x="274.25" y="607.30" width="5.73" height="50.80" fill="#F0A000"/>
<rect x="279.38" y="596.94" width="5.73" height="61.16" fill="#FFC830"/>
<rect x="284.51" y="565.65" width="5.73" height="92.45" fill="#C0A060"/>
<rect x="289.65" y="576.00" width="5.73" height="82.10" fill="#685420"/>
<rect x="294.78" y="591.49" width="5.73" height="66.61" fill="#FCC830"/>
<rect x="299.91" y="569.17" width="5.73" height="88.93" fill="#B09048"/>
<rect x="305.04" y="587.22" width="5.73" height="70.88" fill="#FFD030"/>
<rect x="310.17" y="597.90" width="5.73" height="60.20" fill="#DDB000"/>
<rect x="315.30" y="576.00" width="5.73" height="82.10" fill="#FFD860"/>
<rect x="320.43" y="590.74" width="5.73" height="67.36" fill="#A09010"/>
<rect x="325.56" y="573.23" width="5.73" height="84.87" fill="#5C5820"/>
<rect x="330.70" y="562.33" width="5.73" height="95.77" fill="#CDB888"/>
<rect x="335.83" y="581.02" width="5.73" height="77.08" fill="#6B7020"/>
<rect x="340.96" y="558.81" width="5.73" height="99.29" fill="#E8D888"/>
<rect x="346.09" y="555.50" width="5.73" height="102.60" fill="#484830"/>
<rect x="351.22" y="562.76" width="5.73" height="95.34" fill="#707030"/>
<rect x="356.35" y="557.74" width="5.73" height="100.36" fill="#E8DC98"/>
<rect x="361.48" y="581.13" width="5.73" height="76.97" fill="#78B818"/>
<rect x="366.62" y="580.70" width="5.73" height="77.40" fill="#70B810"/>
<rect x="371.75" y="551.65" width="5.73" height="106.45" fill="#403830"/>
<rect x="376.88" y="569.92" width="5.73" height="88.18" fill="#50A030"/>
<rect x="382.01" y="569.17" width="5.73" height="88.93" fill="#68A848"/>
<rect x="387.14" y="566.29" width="5.73" height="91.81" fill="#90A060"/>
<rect x="392.27" y="573.23" width="5.73" height="84.87" fill="#80C860"/>
<rect x="397.40" y="570.88" width="5.73" height="87.22" fill="#388038"/>
<rect x="402.53" y="562.01" width="5.73" height="96.09" fill="#409050"/>
<rect x="407.67" y="562.01" width="5.73" height="96.09" fill="#489058"/>
<rect x="412.80" y="562.01" width="5.73" height="96.09" fill="#007840"/>
<rect x="417.93" y="574.30" width="5.73" height="83.80" fill="#008848"/>
<rect x="423.06" y="567.03" width="5.73" height="91.07" fill="#B0E0A8"/>
<rect x="428.19" y="569.17" width="5.73" height="88.93" fill="#B8E0B0"/>
<rect x="433.32" y="579.96" width="5.73" height="78.14" fill="#00C088"/>
<rect x="438.45" y="580.70" width="5.73" height="77.40" fill="#00A878"/>
<rect x="443.58" y="580.70" width="5.73" height="77.40" fill="#00A070"/>
<rect x="448.72" y="565.65" width="5.73" height="92.45" fill="#C8E0B8"/>
<rect x="453.85" y="563.72" width="5.73" height="94.38" fill="#D8D8B0"/>
<rect x="458.98" y="569.92" width="5.73" height="88.18" fill="#A8C8A8"/>
<rect x="464.11" y="570.88" width="5.73" height="87.22" fill="#A09888"/>
<rect x="469.24" y="582.52" width="5.73" height="75.58" fill="#483830"/>
<rect x="474.37" y="591.17" width="5.73" height="66.93" fill="#009890"/>
<rect x="479.50" y="594.80" width="5.73" height="63.30" fill="#187060"/>
<rect x="484.64" y="601.21" width="5.73" height="56.89" fill="#007878"/>
<rect x="489.77" y="605.16" width="5.73" height="52.94" fill="#007880"/>
<rect x="494.90" y="592.67" width="5.73" height="65.43" fill="#70A0A0"/>
<rect x="500.03" y="582.52" width="5.73" height="75.58" fill="#707878"/>
<rect x="505.16" y="604.09" width="5.73" height="54.01" fill="#78B8C8"/>
<rect x="510.29" y="614.24" width="5.73" height="43.86" fill="#185870"/>
<rect x="515.42" y="570.88" width="5.73" height="87.22" fill="#C0C0B0"/>
<rect x="520.55" y="615.20" width="5.73" height="42.90" fill="#3088B0"/>
<rect x="525.69" y="561.59" width="5.73" height="96.51" fill="#383838"/>
<rect x="530.82" y="612.32" width="5.73" height="45.78" fill="#284878"/>
<rect x="535.95" y="613.28" width="5.73" height="44.82" fill="#3860A8"/>
<rect x="541.08" y="592.67" width="5.73" height="65.43" fill="#486088"/>
<rect x="546.21" y="609.22" width="5.73" height="48.88" fill="#4058A8"/>
<rect x="551.34" y="577.71" width="5.73" height="80.39" fill="#B0A8C0"/>
<rect x="556.47" y="581.56" width="5.73" height="76.54" fill="#A880B8"/>
<rect x="561.61" y="579.42" width="5.73" height="78.68" fill="#704898"/>
<rect x="566.74" y="563.19" width="5.73" height="94.91" fill="#F0D0D0"/>
<rect x="571.87" y="564.68" width="5.73" height="93.42" fill="#C8A0B0"/>
<rect x="577.00" y="567.35" width="5.73" height="90.75" fill="#482830"/>
<rect x="582.13" y="576.00" width="5.73" height="82.10" fill="#684058"/>
<rect x="587.26" y="578.67" width="5.73" height="79.43" fill="#C078B8"/>
<rect x="592.39" y="578.67" width="5.73" height="79.43" fill="#783880"/>
<rect x="597.52" y="573.44" width="5.73" height="84.66" fill="#C060A8"/>
<rect x="602.66" y="579.42" width="5.73" height="78.68" fill="#883078"/>
<rect x="607.79" y="571.73" width="5.73" height="86.37" fill="#903880"/>
<rect x="612.92" y="580.49" width="5.73" height="77.61" fill="#D8B0A0"/>
<rect x="618.05" y="594.59" width="5.73" height="63.51" fill="#B86078"/>
<rect x="623.18" y="577.50" width="5.73" height="80.60" fill="#D08098"/>
<rect x="628.31" y="599.71" width="5.73" height="58.39" fill="#982858"/>
<rect x="633.44" y="589.57" width="5.73" height="68.53" fill="#E880A0"/>
<rect x="638.57" y="576.75" width="5.73" height="81.35" fill="#FF98B0"/>
<rect x="643.71" y="565.75" width="5.73" height="92.35" fill="#C04070"/>
<rect x="648.84" y="577.50" width="5.73" height="80.60" fill="#FF4880"/>
<rect x="653.97" y="591.81" width="5.73" height="66.29" fill="#E03068"/>
<rect x="151.1" y="550.6" width="508.0" height="107.6" fill="none" stroke="#1a1a1a" stroke-width="1.2"/>
<line x1="148.29999999999998" y1="657.6" x2="151.1" y2="657.6" stroke="#1a1a1a" stroke-width="1"/>
<text transform="translate(141.6 657.5) scale(1.15 1)" font-size="6.0" fill="#333" text-anchor="middle" stroke="#333" stroke-width="0.1">0</text>
<line x1="148.29999999999998" y1="646.9" x2="151.1" y2="646.9" stroke="#1a1a1a" stroke-width="1"/>
<text transform="translate(141.6 646.8) scale(1.15 1)" font-size="6.0" fill="#333" text-anchor="middle" stroke="#333" stroke-width="0.1">10</text>
<line x1="148.29999999999998" y1="636.2" x2="151.1" y2="636.2" stroke="#1a1a1a" stroke-width="1"/>
<text transform="translate(141.6 636.1) scale(1.15 1)" font-size="6.0" fill="#333" text-anchor="middle" stroke="#333" stroke-width="0.1">20</text>
<line x1="148.29999999999998" y1="625.6" x2="151.1" y2="625.6" stroke="#1a1a1a" stroke-width="1"/>
<text transform="translate(141.6 625.5) scale(1.15 1)" font-size="6.0" fill="#333" text-anchor="middle" stroke="#333" stroke-width="0.1">30</text>
<line x1="148.29999999999998" y1="614.9" x2="151.1" y2="614.9" stroke="#1a1a1a" stroke-width="1"/>
<text transform="translate(141.6 614.8) scale(1.15 1)" font-size="6.0" fill="#333" text-anchor="middle" stroke="#333" stroke-width="0.1">40</text>
<line x1="148.29999999999998" y1="604.2" x2="151.1" y2="604.2" stroke="#1a1a1a" stroke-width="1"/>
<text transform="translate(141.6 604.1) scale(1.15 1)" font-size="6.0" fill="#333" text-anchor="middle" stroke="#333" stroke-width="0.1">50</text>
<line x1="148.29999999999998" y1="593.5" x2="151.1" y2="593.5" stroke="#1a1a1a" stroke-width="1"/>
<text transform="translate(141.6 593.4) scale(1.15 1)" font-size="6.0" fill="#333" text-anchor="middle" stroke="#333" stroke-width="0.1">60</text>
<line x1="148.29999999999998" y1="582.8" x2="151.1" y2="582.8" stroke="#1a1a1a" stroke-width="1"/>
<text transform="translate(141.6 582.7) scale(1.15 1)" font-size="6.0" fill="#333" text-anchor="middle" stroke="#333" stroke-width="0.1">70</text>
<line x1="148.29999999999998" y1="572.2" x2="151.1" y2="572.2" stroke="#1a1a1a" stroke-width="1"/>
<text transform="translate(141.6 572.1) scale(1.15 1)" font-size="6.0" fill="#333" text-anchor="middle" stroke="#333" stroke-width="0.1">80</text>
<line x1="148.29999999999998" y1="561.5" x2="151.1" y2="561.5" stroke="#1a1a1a" stroke-width="1"/>
<text transform="translate(141.6 561.4) scale(1.15 1)" font-size="6.0" fill="#333" text-anchor="middle" stroke="#333" stroke-width="0.1">90</text>
<line x1="148.29999999999998" y1="550.8" x2="151.1" y2="550.8" stroke="#1a1a1a" stroke-width="1"/>
<text transform="translate(141.6 550.7) scale(1.15 1)" font-size="6.0" fill="#333" text-anchor="middle" stroke="#333" stroke-width="0.1">100</text>
<text x="156.5" y="671" font-size="7.6" fill="#333" text-anchor="middle" transform="rotate(-90 156.5 671)" stroke="#333" stroke-width="0.1" textLength="15.2" lengthAdjust="spacingAndGlyphs">CES1</text>
<text x="177.0" y="671" font-size="7.6" fill="#333" text-anchor="middle" transform="rotate(-90 177.0 671)" stroke="#333" stroke-width="0.1" textLength="15.2" lengthAdjust="spacingAndGlyphs">CES5</text>
<text x="197.5" y="671" font-size="7.6" fill="#333" text-anchor="middle" transform="rotate(-90 197.5 671)" stroke="#333" stroke-width="0.1" textLength="15.2" lengthAdjust="spacingAndGlyphs">CES9</text>
<text x="218.0" y="671" font-size="7.6" fill="#333" text-anchor="middle" transform="rotate(-90 218.0 671)" stroke="#333" stroke-width="0.1" textLength="18.6" lengthAdjust="spacingAndGlyphs">CES13</text>
<text x="238.6" y="671" font-size="7.6" fill="#333" text-anchor="middle" transform="rotate(-90 238.6 671)" stroke="#333" stroke-width="0.1" textLength="18.6" lengthAdjust="spacingAndGlyphs">CES17</text>
<text x="259.1" y="671" font-size="7.6" fill="#333" text-anchor="middle" transform="rotate(-90 259.1 671)" stroke="#333" stroke-width="0.1" textLength="18.6" lengthAdjust="spacingAndGlyphs">CES21</text>
<text x="279.6" y="671" font-size="7.6" fill="#333" text-anchor="middle" transform="rotate(-90 279.6 671)" stroke="#333" stroke-width="0.1" textLength="18.6" lengthAdjust="spacingAndGlyphs">CES25</text>
<text x="300.1" y="671" font-size="7.6" fill="#333" text-anchor="middle" transform="rotate(-90 300.1 671)" stroke="#333" stroke-width="0.1" textLength="18.6" lengthAdjust="spacingAndGlyphs">CES29</text>
<text x="320.7" y="671" font-size="7.6" fill="#333" text-anchor="middle" transform="rotate(-90 320.7 671)" stroke="#333" stroke-width="0.1" textLength="18.6" lengthAdjust="spacingAndGlyphs">CES33</text>
<text x="341.2" y="671" font-size="7.6" fill="#333" text-anchor="middle" transform="rotate(-90 341.2 671)" stroke="#333" stroke-width="0.1" textLength="18.6" lengthAdjust="spacingAndGlyphs">CES37</text>
<text x="361.7" y="671" font-size="7.6" fill="#333" text-anchor="middle" transform="rotate(-90 361.7 671)" stroke="#333" stroke-width="0.1" textLength="18.6" lengthAdjust="spacingAndGlyphs">CES41</text>
<text x="382.2" y="671" font-size="7.6" fill="#333" text-anchor="middle" transform="rotate(-90 382.2 671)" stroke="#333" stroke-width="0.1" textLength="18.6" lengthAdjust="spacingAndGlyphs">CES45</text>
<text x="402.8" y="671" font-size="7.6" fill="#333" text-anchor="middle" transform="rotate(-90 402.8 671)" stroke="#333" stroke-width="0.1" textLength="18.6" lengthAdjust="spacingAndGlyphs">CES49</text>
<text x="423.3" y="671" font-size="7.6" fill="#333" text-anchor="middle" transform="rotate(-90 423.3 671)" stroke="#333" stroke-width="0.1" textLength="18.6" lengthAdjust="spacingAndGlyphs">CES53</text>
<text x="443.8" y="671" font-size="7.6" fill="#333" text-anchor="middle" transform="rotate(-90 443.8 671)" stroke="#333" stroke-width="0.1" textLength="18.6" lengthAdjust="spacingAndGlyphs">CES57</text>
<text x="464.3" y="671" font-size="7.6" fill="#333" text-anchor="middle" transform="rotate(-90 464.3 671)" stroke="#333" stroke-width="0.1" textLength="18.6" lengthAdjust="spacingAndGlyphs">CES61</text>
<text x="484.9" y="671" font-size="7.6" fill="#333" text-anchor="middle" transform="rotate(-90 484.9 671)" stroke="#333" stroke-width="0.1" textLength="18.6" lengthAdjust="spacingAndGlyphs">CES65</text>
<text x="505.4" y="671" font-size="7.6" fill="#333" text-anchor="middle" transform="rotate(-90 505.4 671)" stroke="#333" stroke-width="0.1" textLength="18.6" lengthAdjust="spacingAndGlyphs">CES69</text>
<text x="525.9" y="671" font-size="7.6" fill="#333" text-anchor="middle" transform="rotate(-90 525.9 671)" stroke="#333" stroke-width="0.1" textLength="18.6" lengthAdjust="spacingAndGlyphs">CES73</text>
<text x="546.4" y="671" font-size="7.6" fill="#333" text-anchor="middle" transform="rotate(-90 546.4 671)" stroke="#333" stroke-width="0.1" textLength="18.6" lengthAdjust="spacingAndGlyphs">CES77</text>
<text x="567.0" y="671" font-size="7.6" fill="#333" text-anchor="middle" transform="rotate(-90 567.0 671)" stroke="#333" stroke-width="0.1" textLength="18.6" lengthAdjust="spacingAndGlyphs">CES81</text>
<text x="587.5" y="671" font-size="7.6" fill="#333" text-anchor="middle" transform="rotate(-90 587.5 671)" stroke="#333" stroke-width="0.1" textLength="18.6" lengthAdjust="spacingAndGlyphs">CES85</text>
<text x="608.0" y="671" font-size="7.6" fill="#333" text-anchor="middle" transform="rotate(-90 608.0 671)" stroke="#333" stroke-width="0.1" textLength="18.6" lengthAdjust="spacingAndGlyphs">CES89</text>
<text x="628.5" y="671" font-size="7.6" fill="#333" text-anchor="middle" transform="rotate(-90 628.5 671)" stroke="#333" stroke-width="0.1" textLength="18.6" lengthAdjust="spacingAndGlyphs">CES93</text>
<text x="649.1" y="671" font-size="7.6" fill="#333" text-anchor="middle" transform="rotate(-90 649.1 671)" stroke="#333" stroke-width="0.1" textLength="18.6" lengthAdjust="spacingAndGlyphs">CES97</text>
<text x="132.2" y="608.6" font-size="9.4" fill="#000" text-anchor="middle" transform="rotate(-90 132.2 608.6)" font-weight="bold" font-family='"DejaVu Sans Condensed","DejaVu Sans","Liberation Sans",sans-serif' textLength="90" lengthAdjust="spacingAndGlyphs">Color Sample Fidelity</text>
<line x1="120" y1="682.5" x2="677" y2="682.5" stroke="#444" stroke-width="1.2"/>
</svg>
</body></html>
